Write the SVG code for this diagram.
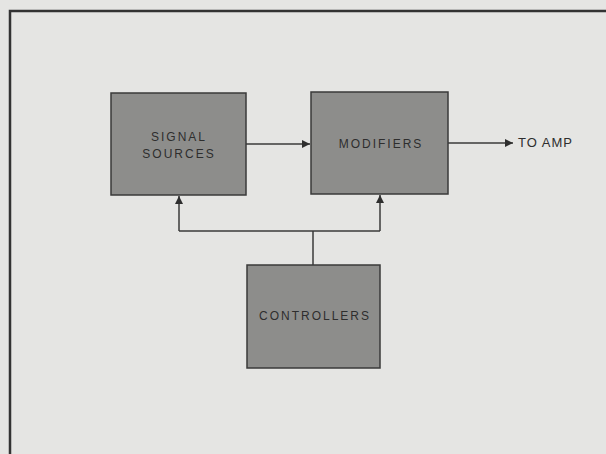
<svg xmlns="http://www.w3.org/2000/svg" width="606" height="454" viewBox="0 0 606 454">
  <defs>
    <style>
      .box { fill: #8d8d8b; stroke: #3a3a3a; stroke-width: 1.5; }
      .lbl { font-family: "Liberation Sans", Arial, sans-serif; font-size: 12px; letter-spacing: 2px; fill: #2e2e2e; text-anchor: middle; }
      .wire { fill: none; stroke: #3a3a3a; stroke-width: 1.5; }
      .ext { font-family: "Liberation Sans", Arial, sans-serif; font-size: 13px; letter-spacing: 1px; fill: #2e2e2e; }
    </style>
    <marker id="arr" viewBox="0 0 10 10" refX="10" refY="5" markerWidth="9" markerHeight="8" markerUnits="userSpaceOnUse" orient="auto">
      <path d="M0,0 L10,5 L0,10 z" fill="#2e2e2e"/>
    </marker>
  </defs>
  <rect x="0" y="0" width="606" height="454" fill="#e5e5e3"/>
  <g id="frame">
    <path d="M10,454 L10,11 L606,11" fill="none" stroke="#333" stroke-width="2.5"/>
  </g>
  <g id="connectors">
    <line class="wire" x1="246" y1="144" x2="310" y2="144" marker-end="url(#arr)"/>
    <line class="wire" x1="448" y1="143" x2="513" y2="143" marker-end="url(#arr)"/>
    <path class="wire" d="M313,265 L313,231"/>
    <path class="wire" d="M179,231 L380,231"/>
    <line class="wire" x1="179" y1="231" x2="179" y2="196" marker-end="url(#arr)"/>
    <line class="wire" x1="380" y1="231" x2="380" y2="195" marker-end="url(#arr)"/>
  </g>
  <g id="signal-sources">
    <rect class="box" x="111" y="93" width="135" height="102"/>
    <text class="lbl" x="179" y="141">SIGNAL</text>
    <text class="lbl" x="179" y="158">SOURCES</text>
  </g>
  <g id="modifiers">
    <rect class="box" x="311" y="92" width="137" height="102"/>
    <text class="lbl" x="381" y="148">MODIFIERS</text>
  </g>
  <g id="controllers">
    <rect class="box" x="247" y="265" width="133" height="103"/>
    <text class="lbl" x="315" y="320">CONTROLLERS</text>
  </g>
  <g id="to-amp">
    <text class="ext" x="518" y="147">TO AMP</text>
  </g>
</svg>
